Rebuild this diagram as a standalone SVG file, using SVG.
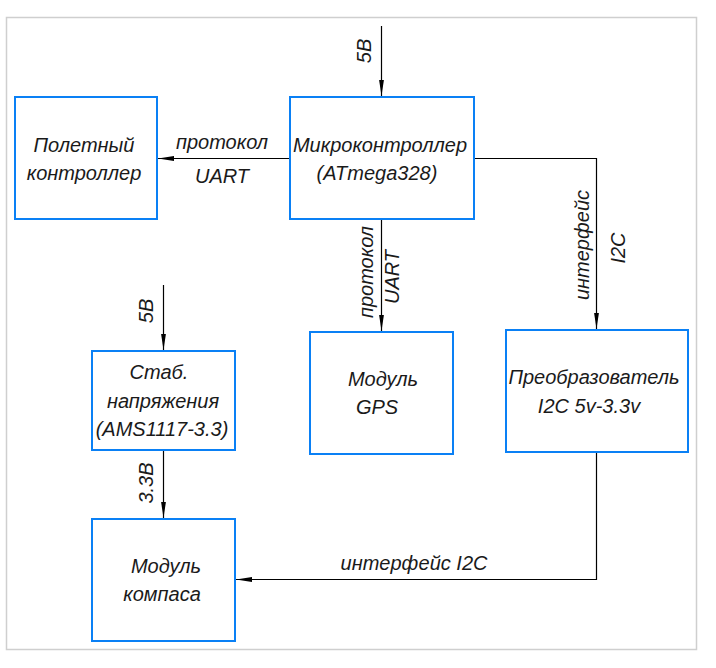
<svg xmlns="http://www.w3.org/2000/svg" width="716" height="668" viewBox="0 0 716 668">
<style>
.box{fill:#fff;stroke:#0a80f5;stroke-width:2}
.ln{fill:none;stroke:#000;stroke-width:1.2}
text{font-family:"Liberation Sans","DejaVu Sans",sans-serif;font-style:italic;font-size:20px;fill:#1a1a1a;text-anchor:middle}
</style>
<defs>
<marker id="ah" viewBox="0 0 16 6" refX="16" refY="3" markerWidth="16" markerHeight="6" markerUnits="userSpaceOnUse" orient="auto">
<path d="M0,0.6 L16,3 L0,5.4 Z" fill="#000"/>
</marker>
</defs>
<rect x="0" y="0" width="716" height="668" fill="#fff"/>
<rect x="6.5" y="17.5" width="690" height="632" fill="none" stroke="#cfcfcf" stroke-width="1.5"/>
<g id="connectors">
<path class="ln" d="M381.5,26 V96" marker-end="url(#ah)"/>
<path class="ln" d="M290,158.5 H158" marker-end="url(#ah)"/>
<path class="ln" d="M381.5,219 V331" marker-end="url(#ah)"/>
<path class="ln" d="M474,158.5 H596.5 V329" marker-end="url(#ah)"/>
<path class="ln" d="M163.5,285 V350" marker-end="url(#ah)"/>
<path class="ln" d="M163.5,450 V518" marker-end="url(#ah)"/>
<path class="ln" d="M596.5,452 V579.5 H236" marker-end="url(#ah)"/>
<text transform="translate(371,51) rotate(-90)">5В</text>
<text x="222" y="149">протокол</text>
<text x="222" y="183">UART</text>
<text transform="translate(373,272) rotate(-90)">протокол</text>
<text transform="translate(399,277) rotate(-90)">UART</text>
<text transform="translate(589,245) rotate(-90)">интерфейс</text>
<text transform="translate(625,248) rotate(-90)">I2C</text>
<text transform="translate(153,311) rotate(-90)">5В</text>
<text transform="translate(153,483) rotate(-90)">3.3В</text>
<text x="414" y="570">интерфейс I2C</text>
</g>
<g id="flight-controller">
<rect class="box" x="15" y="97" width="142" height="122"/>
<text x="84" y="152">Полетный</text>
<text x="84" y="180">контроллер</text>
</g>
<g id="mcu">
<rect class="box" x="290" y="97" width="184" height="122"/>
<text x="380" y="152">Микроконтроллер</text>
<text x="377" y="180">(ATmega328)</text>
</g>
<g id="stabilizer">
<rect class="box" x="92" y="351" width="143" height="99"/>
<text x="159" y="379">Стаб.</text>
<text x="163" y="408">напряжения</text>
<text x="162" y="436">(AMS1117-3.3)</text>
</g>
<g id="gps">
<rect class="box" x="310" y="332" width="143" height="122"/>
<text x="383" y="386">Модуль</text>
<text x="377" y="414">GPS</text>
</g>
<g id="converter">
<rect class="box" x="506" y="330" width="182" height="122"/>
<text x="594" y="384">Преобразователь</text>
<text x="589" y="413">I2C 5v-3.3v</text>
</g>
<g id="compass">
<rect class="box" x="92" y="519" width="143" height="122"/>
<text x="166" y="573">Модуль</text>
<text x="162" y="601">компаса</text>
</g>
</svg>
